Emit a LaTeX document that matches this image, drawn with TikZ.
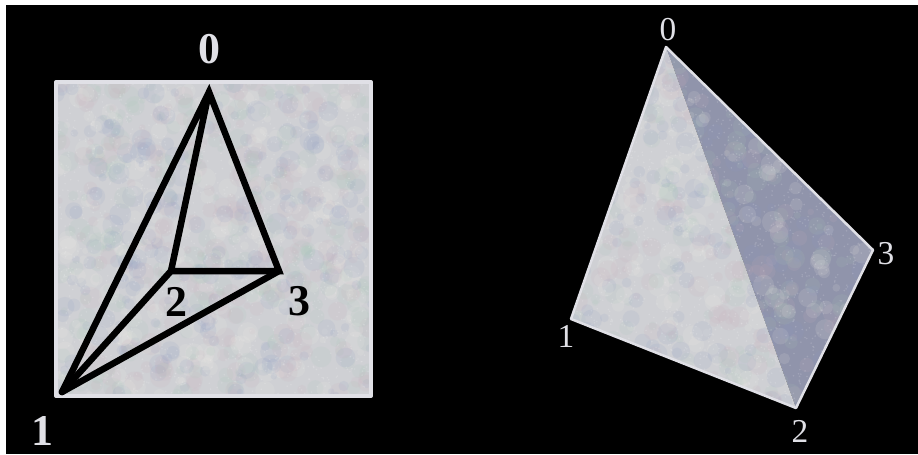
\documentclass[tikz,border=0pt]{standalone}
\usepackage{fontspec}
\setmainfont{Liberation Serif}
\usetikzlibrary{positioning}
\definecolor{sheetgrey}{HTML}{CFD0D4}
\definecolor{sheetedge}{HTML}{E0E0E6}
\definecolor{backgrey}{HTML}{9094AB}
\definecolor{mottleblue}{HTML}{8D9BC4}
\definecolor{mottlerose}{HTML}{C9AEBB}
\definecolor{mottlegreen}{HTML}{A8C8B8}
\definecolor{mottlepale}{HTML}{F2F0E8}
% blotches over the box x0..x1, y0..y1
\newcommand{\mottle}[5]{%
  \foreach \i in {1,...,#5}{
    \pgfmathsetmacro{\bx}{#1+rnd*(#3-#1)}
    \pgfmathsetmacro{\by}{#2+rnd*(#4-#2)}
    \pgfmathsetmacro{\br}{3+rnd*8}
    \pgfmathtruncatemacro{\bc}{mod(\i,4)}
    \ifcase\bc\def\bcol{mottleblue}\or\def\bcol{mottlerose}\or\def\bcol{mottlegreen}\or\def\bcol{mottlepale}\fi
    \fill[\bcol,opacity=0.13] (\bx,\by) circle (\br);
  }
  \foreach \i in {1,...,1500}{
    \pgfmathsetmacro{\bx}{#1+rnd*(#3-#1)}
    \pgfmathsetmacro{\by}{#2+rnd*(#4-#2)}
    \fill[white,opacity=0.15] (\bx,\by) circle (0.9);
  }
}
\begin{document}
\begin{tikzpicture}[
  x=0.02cm,y=-0.02cm,
  wire/.style={black,line width=1.3mm,line join=miter,line cap=round},
  rim/.style={draw=sheetedge,line width=#1,line join=round},
  boldnum/.style={font=\fontsize{25}{25}\selectfont\bfseries,text=#1,inner sep=0pt},
  thinnum/.style={font=\fontsize{19}{19}\selectfont,text=#1,inner sep=0pt}
]
\pgfmathsetseed{4217}
\useasboundingbox (0,0) rectangle (918,454);
\fill[white] (0,0) rectangle (918,454);
\fill[black] (6,5) rectangle (918,454);
% left: the flat square with the wire figure
\coordinate (sw) at (56,82);
\coordinate (se) at (371,396);
\fill[sheetgrey] (sw) rectangle (se);
\begin{scope}
  \clip (sw) rectangle (se);
  \mottle{56}{82}{371}{396}{900}
\end{scope}
\draw[rim=0.8mm] (sw) rectangle (se);
\coordinate (a0) at (209,92);
\coordinate (a1) at (62,392);
\coordinate (a2) at (171,271);
\coordinate (a3) at (279,271);
\draw[wire] (a1) -- (a0) -- (a3) -- (a2) -- (a0);
\draw[wire] (a1) -- (a2);
\draw[wire] (a1) -- (a3);
\node[boldnum=sheetedge] (l0) at (209,49) {0};
\node[boldnum=sheetedge] (l1) at (42,431) {1};
\node[boldnum=black] (l2) at (176,302) {2};
\node[boldnum=black] (l3) at (299,301) {3};
% right: the tetrahedron seen from outside
\coordinate (b0) at (666,47);
\coordinate (b1) at (571,319);
\coordinate (b2) at (796,408);
\coordinate (b3) at (873,250);
\fill[backgrey] (b0) -- (b3) -- (b2) -- cycle;
\begin{scope}
  \clip (b0) -- (b3) -- (b2) -- cycle;
  \mottle{666}{47}{873}{408}{450}
\end{scope}
\fill[sheetgrey] (b0) -- (b1) -- (b2) -- cycle;
\begin{scope}
  \clip (b0) -- (b1) -- (b2) -- cycle;
  \mottle{571}{47}{796}{408}{550}
\end{scope}
\draw[rim=0.5mm] (b0) -- (b1) -- (b2) -- (b3) -- cycle;
\node[thinnum=sheetedge] (r0) at (668,30) {0};
\node[thinnum=sheetedge] (r1) at (566,336) {1};
\node[thinnum=sheetedge] (r2) at (800,431) {2};
\node[thinnum=sheetedge] (r3) at (886,254) {3};
\end{tikzpicture}
\end{document}
